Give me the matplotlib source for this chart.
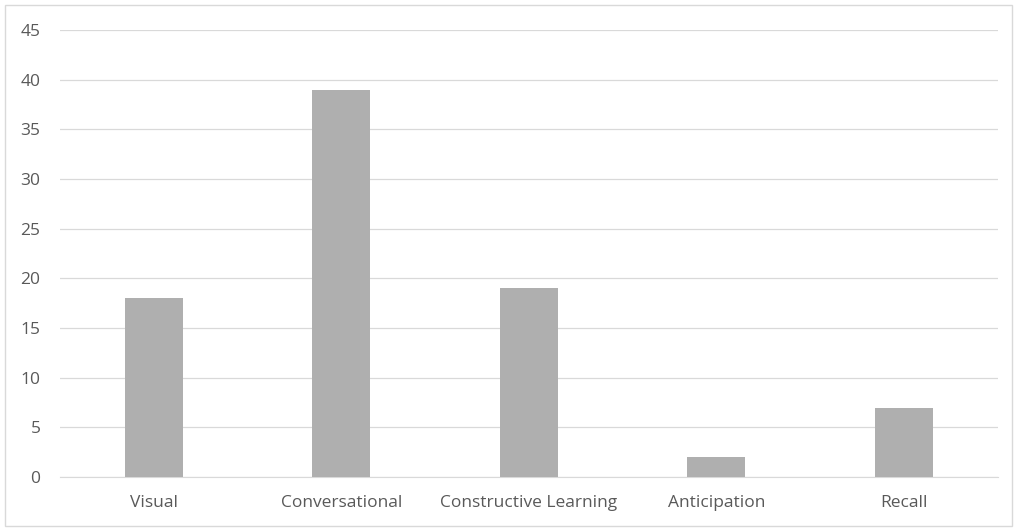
import matplotlib
matplotlib.use("Agg")
import matplotlib.pyplot as plt
from matplotlib.patches import Rectangle

categories = ["Visual", "Conversational", "Constructive Learning", "Anticipation", "Recall"]
values = [18, 39, 19, 2, 7]
y_ticks = [0, 5, 10, 15, 20, 25, 30, 35, 40, 45]

plt.rcParams['font.family'] = ['Open Sans', 'DejaVu Sans']

fig = plt.figure(figsize=(10.17, 5.29), dpi=100)
ax = fig.add_axes([0.059, 0.098, 0.922, 0.845])

x = list(range(len(categories)))
ax.bar(x, values, width=0.31, color="#afafaf", zorder=3)

ax.set_xlim(-0.5, len(categories) - 0.5)
ax.set_ylim(0, 45)
ax.set_yticks(y_ticks)
ax.set_xticks(x)
ax.set_xticklabels(categories)
ax.yaxis.grid(True, color="#d9d9d9", linewidth=0.9, zorder=0)
ax.tick_params(axis="both", length=0, labelsize=12.5, colors="#595959")
ax.tick_params(axis="x", pad=13)
ax.tick_params(axis="y", pad=14)
for s in ["top", "right", "left"]:
    ax.spines[s].set_visible(False)
ax.spines["bottom"].set_color("#d9d9d9")

# light border round the whole chart
fig.patches.append(Rectangle((0.005, 0.006), 0.99, 0.985, transform=fig.transFigure,
                             fill=False, edgecolor="#d9d9d9", linewidth=1))

fig.savefig("out.png", dpi=100)
